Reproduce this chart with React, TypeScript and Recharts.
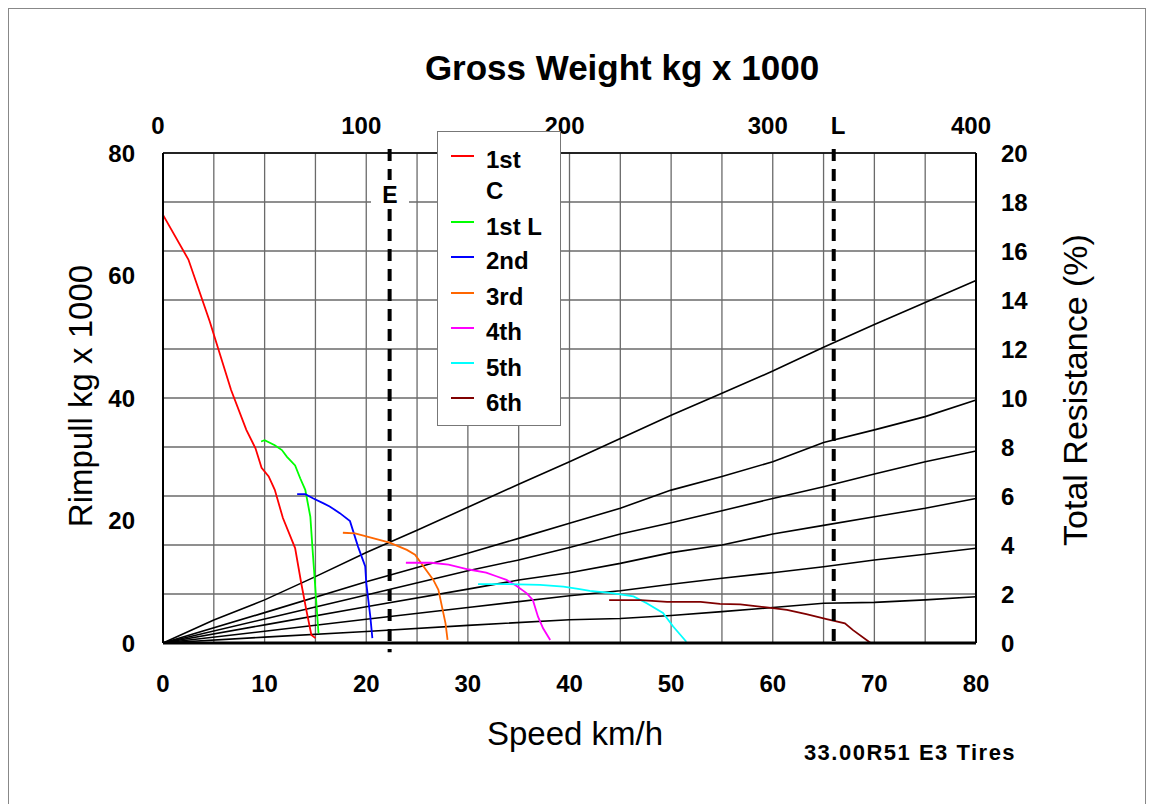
import { LineChart, Line, XAxis, YAxis, CartesianGrid, ReferenceLine } from 'recharts';

const FONT = 'Arial, "Liberation Sans", Helvetica, sans-serif';

// axis ticks (speed ticks every 5 carry the grid, labels only every 10)
const speedTicks = [0, 5, 10, 15, 20, 25, 30, 35, 40, 45, 50, 55, 60, 65, 70, 75, 80];
const weightTicks = [0, 100, 200, 300, 400];
const rimpullTicks = [0, 20, 40, 60, 80];
const resistanceTicks = [0, 2, 4, 6, 8, 10, 12, 14, 16, 18, 20];

// rimpull curves [speed km/h, rimpull kg x 1000]
const gear1C = [
  [0, 69.9], [2.5, 62.6], [4.6, 52.5], [6.7, 41.3], [8.2, 34.8], [9.1, 31.8], [9.7, 28.6],
  [10.4, 27.2], [11.0, 25.0], [11.8, 20.4], [13.0, 15.5], [13.6, 9.8], [14.1, 5.4], [14.6, 1.3], [15.0, 0.8],
];
const gear1L = [
  [9.65, 32.9], [10.0, 33.1], [11.0, 32.3], [11.7, 31.5], [12.2, 30.4], [13.0, 29.0], [13.5, 26.9],
  [14.0, 25.0], [14.5, 20.6], [14.7, 15.7], [15.0, 8.7], [15.3, 1.6],
];
const gear2 = [
  [13.2, 24.3], [14.0, 24.3], [14.8, 23.6], [15.8, 22.8], [16.4, 22.3], [17.4, 21.2], [18.4, 19.9],
  [19.2, 15.7], [19.9, 12.5], [20.0, 9.8], [20.4, 4.3], [20.6, 0.8],
];
const gear3 = [
  [17.7, 18.0], [18.9, 17.9], [20.0, 17.4], [22.3, 16.4], [24.0, 15.2], [24.8, 14.4], [26.6, 10.3],
  [27.1, 8.7], [27.8, 3.2], [28.0, 0.5],
];
const gear4 = [
  [23.9, 13.1], [26.4, 13.1], [28.1, 12.8], [30.1, 12.0], [31.8, 11.5], [32.8, 10.9], [33.8, 10.3],
  [34.8, 9.3], [35.8, 8.1], [36.4, 7.0], [36.9, 4.3], [37.4, 2.4], [38.1, 0.5],
];
const gear5 = [
  [31.0, 9.6], [34.0, 9.6], [37.1, 9.5], [39.4, 9.2], [41.0, 8.8], [42.0, 8.5], [44.0, 8.2],
  [46.3, 7.6], [47.6, 6.5], [49.2, 4.9], [50.2, 2.7], [51.5, 0.2],
];
const gear6 = [
  [43.9, 7.0], [47.0, 7.0], [49.6, 6.7], [52.9, 6.7], [54.8, 6.4], [56.8, 6.3], [59.4, 5.8],
  [61.4, 5.4], [63.3, 4.7], [65.3, 3.9], [67.1, 3.2], [67.9, 2.1], [69.6, 0.05],
];

// total resistance lines [speed km/h, %]
const res1 = [
  [0, 0], [5, 0.94], [10, 1.76], [15, 2.71], [20, 3.69], [25, 4.6], [30, 5.54], [35, 6.48], [40, 7.4],
  [45, 8.35], [50, 9.3], [55, 10.19], [60, 11.1], [65, 12.07], [70, 13.0], [75, 13.9], [80, 14.8],
];
const res2 = [
  [0, 0], [10, 1.24], [20, 2.5], [30, 3.66], [35, 4.27], [40, 4.89], [45, 5.5], [50, 6.24],
  [55, 6.8], [60, 7.4], [65, 8.18], [70, 8.7], [75, 9.24], [80, 9.92],
];
const res3 = [
  [0, 0], [10, 0.98], [20, 1.96], [30, 2.95], [35, 3.39], [40, 3.9], [45, 4.45], [50, 4.91],
  [55, 5.4], [60, 5.9], [65, 6.38], [70, 6.9], [75, 7.4], [80, 7.84],
];
const res4 = [
  [0, 0], [10, 0.74], [20, 1.48], [30, 2.2], [35, 2.57], [40, 2.87], [45, 3.25], [50, 3.69],
  [55, 4.0], [60, 4.45], [65, 4.8], [70, 5.15], [75, 5.5], [80, 5.9],
];
const res5 = [
  [0, 0], [10, 0.48], [20, 0.97], [30, 1.45], [40, 1.93], [45, 2.13], [50, 2.4], [55, 2.64],
  [60, 2.87], [65, 3.11], [70, 3.39], [75, 3.62], [80, 3.87],
];
const res6 = [
  [0, 0], [10, 0.24], [20, 0.47], [30, 0.72], [40, 0.95], [45, 1.0], [50, 1.12], [55, 1.28],
  [60, 1.45], [65, 1.62], [70, 1.66], [75, 1.76], [80, 1.89],
];

// speed limits marked on the chart
const speedE = 22.3;
const speedL = 66.0;

const toPoints = (arr: number[][]) => arr.map(([x, y]) => ({ x, y }));

const gears = [
  { name: '1st C', color: '#ff0000', points: gear1C },
  { name: '1st L', color: '#00ff00', points: gear1L },
  { name: '2nd', color: '#0000ff', points: gear2 },
  { name: '3rd', color: '#ff6600', points: gear3 },
  { name: '4th', color: '#ff00ff', points: gear4 },
  { name: '5th', color: '#00ffff', points: gear5 },
  { name: '6th', color: '#800000', points: gear6 },
];
const resistanceLines = [res1, res2, res3, res4, res5, res6];

const tickStyle = { fill: '#000', fontSize: 24, fontWeight: 'bold', fontFamily: FONT };

// bottom axis: every 5 km/h gets a grid line, only every 10 gets a label
const SpeedTick = (props: any) => {
  const { x, y, payload } = props;
  if (payload.value % 10 !== 0) return <g />;
  return (
    <text x={x} y={y + 17} textAnchor="middle" {...tickStyle}>
      {payload.value}
    </text>
  );
};

// gross weight labels sit a little left of their positions in the original
const WeightTick = (props: any) => {
  const { x, y, payload } = props;
  return (
    <text x={x - 5} y={y} textAnchor="middle" {...tickStyle}>
      {payload.value}
    </text>
  );
};

// legend rows: label lines and where the sample line sits (page px)
const legendRows = [
  { color: '#ff0000', lineY: 156, texts: [['1st', 168], ['C', 199]] },
  { color: '#00ff00', lineY: 222, texts: [['1st L', 235]] },
  { color: '#0000ff', lineY: 257, texts: [['2nd', 269]] },
  { color: '#ff6600', lineY: 293, texts: [['3rd', 305]] },
  { color: '#ff00ff', lineY: 328, texts: [['4th', 340]] },
  { color: '#00ffff', lineY: 363, texts: [['5th', 376]] },
  { color: '#800000', lineY: 398, texts: [['6th', 411]] },
];

export default function App() {
  return (
    <div style={{ position: 'relative', width: 1138, height: 796, fontFamily: FONT }}>
      <div
        style={{
          position: 'absolute', left: 0, top: 0, width: 1138, height: 800,
          border: '1px solid #888', boxSizing: 'border-box',
        }}
      />
      <LineChart width={1138} height={796} margin={{ top: 0, right: 0, bottom: 0, left: 0 }}>
        <CartesianGrid xAxisId="speed" yAxisId="right" stroke="#6a6a6a" strokeWidth={1.3} />
        <XAxis
          xAxisId="speed"
          type="number"
          dataKey="x"
          domain={[0, 80]}
          ticks={speedTicks}
          interval={0}
          height={161}
          tickSize={0}
          tickMargin={32}
          tickLine={false}
          axisLine={{ stroke: '#000', strokeWidth: 3 }}
          tick={<SpeedTick />}
        />
        <XAxis
          xAxisId="top"
          type="number"
          dataKey="x"
          orientation="top"
          domain={[0, 400]}
          allowDataOverflow
          ticks={weightTicks}
          interval={0}
          height={145}
          tickSize={0}
          tickMargin={19}
          tickLine={false}
          axisLine={{ stroke: '#000', strokeWidth: 1.5 }}
          tick={<WeightTick />}
        />
        <YAxis
          yAxisId="left"
          type="number"
          domain={[0, 80]}
          ticks={rimpullTicks}
          interval={0}
          width={155}
          tickSize={0}
          tickMargin={28}
          tickLine={false}
          axisLine={{ stroke: '#000', strokeWidth: 2 }}
          tick={tickStyle}
        />
        <YAxis
          yAxisId="right"
          orientation="right"
          type="number"
          domain={[0, 20]}
          ticks={resistanceTicks}
          interval={0}
          width={170}
          tickSize={0}
          tickMargin={25}
          tickLine={false}
          axisLine={{ stroke: '#000', strokeWidth: 2 }}
          tick={tickStyle}
        />
        {/* invisible anchor so the gross weight axis gets its scale */}
        <Line
          xAxisId="top"
          yAxisId="left"
          data={weightTicks.map((w) => ({ x: w, y: 0 }))}
          dataKey="y"
          stroke="none"
          dot={false}
          activeDot={false}
          legendType="none"
          isAnimationActive={false}
        />
        {resistanceLines.map((r, i) => (
          <Line
            key={'res' + i}
            xAxisId="speed"
            yAxisId="right"
            data={toPoints(r)}
            dataKey="y"
            type="linear"
            stroke="#000"
            strokeWidth={1.6}
            dot={false}
            legendType="none"
            isAnimationActive={false}
          />
        ))}
        {gears.map((g) => (
          <Line
            key={g.name}
            name={g.name}
            xAxisId="speed"
            yAxisId="left"
            data={toPoints(g.points)}
            dataKey="y"
            type="linear"
            stroke={g.color}
            strokeWidth={1.8}
            dot={false}
            isAnimationActive={false}
          />
        ))}
        <ReferenceLine
          xAxisId="speed"
          yAxisId="left"
          segment={[{ x: speedE, y: 80.65 }, { x: speedE, y: -1.5 }]}
          ifOverflow="visible"
          stroke="#000"
          strokeWidth={4}
          strokeDasharray="12 8"
        />
        <ReferenceLine
          xAxisId="speed"
          yAxisId="left"
          segment={[{ x: speedL, y: 80.65 }, { x: speedL, y: 0 }]}
          ifOverflow="visible"
          stroke="#000"
          strokeWidth={4}
          strokeDasharray="12 8"
        />
      </LineChart>
      <svg
        width={1138}
        height={796}
        style={{ position: 'absolute', left: 0, top: 0, pointerEvents: 'none', overflow: 'visible' }}
      >
        <g transform="translate(-8 -8)" fontFamily={FONT} fill="#000">
          <text x={622} y={80} textAnchor="middle" fontSize={35} fontWeight="bold">
            Gross Weight kg x 1000
          </text>
          <text x={92} y={396} textAnchor="middle" fontSize={33} transform="rotate(-90 92 396)">
            Rimpull kg x 1000
          </text>
          <text x={1087} y={390} textAnchor="middle" fontSize={34} transform="rotate(-90 1087 390)">
            Total Resistance (%)
          </text>
          <text x={575} y={745} textAnchor="middle" fontSize={33}>
            Speed km/h
          </text>
          <text x={910} y={760} textAnchor="middle" fontSize={22} fontWeight="bold" letterSpacing={1.5}>
            33.00R51 E3 Tires
          </text>
          <text x={838} y={134} textAnchor="middle" fontSize={24} fontWeight="bold">
            L
          </text>
          <rect x={371} y={180} width={38} height={27} fill="#fff" />
          <text x={390} y={203} textAnchor="middle" fontSize={23} fontWeight="bold">
            E
          </text>
          <rect x={437.5} y={131.5} width={123} height={294} fill="#fff" stroke="#777" strokeWidth={1} />
          {legendRows.map((row) => (
            <g key={row.color}>
              <line x1={451} x2={474} y1={row.lineY} y2={row.lineY} stroke={row.color} strokeWidth={2} />
              {row.texts.map(([t, y]) => (
                <text key={String(t)} x={486} y={Number(y)} fontSize={24} fontWeight="bold">
                  {t}
                </text>
              ))}
            </g>
          ))}
        </g>
      </svg>
    </div>
  );
}
